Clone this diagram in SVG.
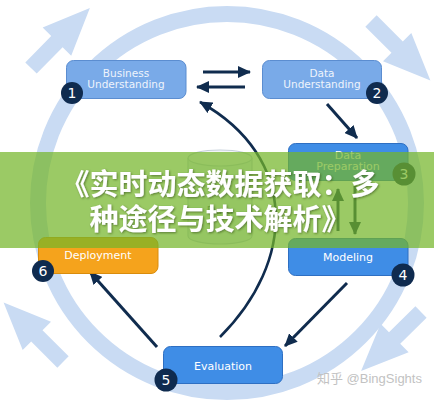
<svg xmlns="http://www.w3.org/2000/svg" width="434" height="400" viewBox="0 0 434 400">
<style>
.ring{fill:none;stroke:#c9dbf3;stroke-width:16}
.big{fill:#c9dbf3}
.boxA{fill:#79aae8;stroke:#5b8dd0;stroke-width:1}
.boxB{fill:#3f8de6;stroke:#2e6fc2;stroke-width:1}
.boxC{fill:#f5a31c;stroke:#d98c0c;stroke-width:1}
.lbl{font-family:"DejaVu Sans",Verdana,sans-serif;fill:#ffffff;text-anchor:middle}
.lblA{font-size:10.5px;fill:#eef4fc}
.lblB{font-size:11px}
.badge circle{fill:#0f2b4f}
.badge text{font-family:"DejaVu Sans",sans-serif;font-size:14px;fill:#ffffff;text-anchor:middle}
.arr{fill:none;stroke:#102c4e;stroke-width:3;marker-end:url(#head)}
.banner{fill:#74b62a;opacity:0.72}
.title{font-family:"Noto Sans CJK SC","Noto Sans CJK JP",sans-serif;font-weight:bold;font-size:29px;fill:#ffffff;text-anchor:middle}
.wm{font-family:"Liberation Sans","Noto Sans CJK SC",sans-serif;font-size:13px;fill:#c2c2c2}
</style>
<defs>
<marker id="head" markerUnits="userSpaceOnUse" markerWidth="14" markerHeight="12" refX="12" refY="6" orient="auto">
<path d="M0,0 L13,6 L0,12 Z" fill="#102c4e"/>
</marker>
<path id="bigArrow" d="M0,-8 L37,-8 L37,-20 L84,0 L37,20 L37,8 L0,8 Z"/>
<filter id="sh" x="-5%" y="-20%" width="110%" height="140%">
<feDropShadow dx="1" dy="1" stdDeviation="1" flood-color="#2d4a10" flood-opacity="0.6"/>
</filter>
</defs>
<rect width="434" height="400" fill="#ffffff"/>
<g id="cycle">
<circle class="ring" cx="227" cy="203" r="189"/>
<use href="#bigArrow" class="big" transform="translate(31,68) rotate(-45.5)"/>
<use href="#bigArrow" class="big" transform="translate(371,21) rotate(45)"/>
<use href="#bigArrow" class="big" transform="translate(421,312) rotate(135.5)"/>
<use href="#bigArrow" class="big" transform="translate(63,362) rotate(-135)"/>
</g>
<g id="data-store">
<path d="M188,158 L188,236 A32,8 0 0 0 252,236 L252,158" fill="#eaeff4" stroke="#c6d0db" stroke-width="1.2"/>
<ellipse cx="220" cy="158" rx="32" ry="8" fill="#f2f5f8" stroke="#c6d0db" stroke-width="1.2"/>
<text x="220" y="214" font-family="DejaVu Sans,sans-serif" font-size="11" fill="#5a6470" text-anchor="middle">Data</text>
</g>
<g id="connectors">
<path class="arr" d="M203,72 L250,72"/>
<path class="arr" d="M245,87 L197,87"/>
<path class="arr" d="M327,104 L357,138"/>
<path class="arr" d="M338,231 L338,189"/>
<path class="arr" d="M355,186 L355,234"/>
<path class="arr" d="M347,283 L285,346"/>
<path class="arr" d="M157,347 L90,272"/>
<path class="arr" style="stroke-width:2.6" d="M220,337 C295,262 300,158 200,102"/>
</g>
<g id="n1">
<rect class="boxA" x="66.5" y="60.5" width="119.5" height="38" rx="7"/>
<text class="lbl lblA" x="126" y="77">Business</text>
<text class="lbl lblA" x="126" y="88">Understanding</text>
<g class="badge"><circle cx="72" cy="93" r="11"/><text x="72" y="98">1</text></g>
</g>
<g id="n2">
<rect class="boxA" x="262.5" y="60.5" width="119" height="38" rx="7"/>
<text class="lbl lblA" x="322" y="77">Data</text>
<text class="lbl lblA" x="322" y="88">Understanding</text>
<g class="badge"><circle cx="377" cy="93" r="11"/><text x="377" y="98">2</text></g>
</g>
<g id="n3">
<rect class="boxB" x="288.5" y="143.5" width="119.5" height="37" rx="7"/>
<text class="lbl lblB" x="348" y="159">Data</text>
<text class="lbl lblB" x="348" y="170">Preparation</text>
<g class="badge"><circle cx="404" cy="174" r="11.5"/><text x="404" y="179">3</text></g>
</g>
<g id="n4">
<rect class="boxB" x="288.5" y="238.5" width="119.5" height="37" rx="7"/>
<text class="lbl lblB" x="348" y="261">Modeling</text>
<g class="badge"><circle cx="403" cy="275" r="11.5"/><text x="403" y="280">4</text></g>
</g>
<g id="n5">
<rect class="boxB" x="163.5" y="346.5" width="119" height="37" rx="7"/>
<text class="lbl lblB" x="223" y="370">Evaluation</text>
<g class="badge"><circle cx="166" cy="380" r="11.5"/><text x="166" y="385">5</text></g>
</g>
<g id="n6">
<rect class="boxC" x="38.5" y="237.5" width="119.5" height="36" rx="7"/>
<text class="lbl lblB" x="98" y="259">Deployment</text>
<g class="badge"><circle cx="43" cy="271" r="11"/><text x="43" y="276">6</text></g>
</g>
<g id="overlay">
<rect class="banner" x="0" y="152" width="434" height="96"/>
<text class="title" x="220" y="195" filter="url(#sh)">《实时动态数据获取：多</text>
<text class="title" x="220" y="230" filter="url(#sh)">种途径与技术解析》</text>
</g>
<text class="wm" x="317" y="383">知乎 @BingSights</text>
</svg>
